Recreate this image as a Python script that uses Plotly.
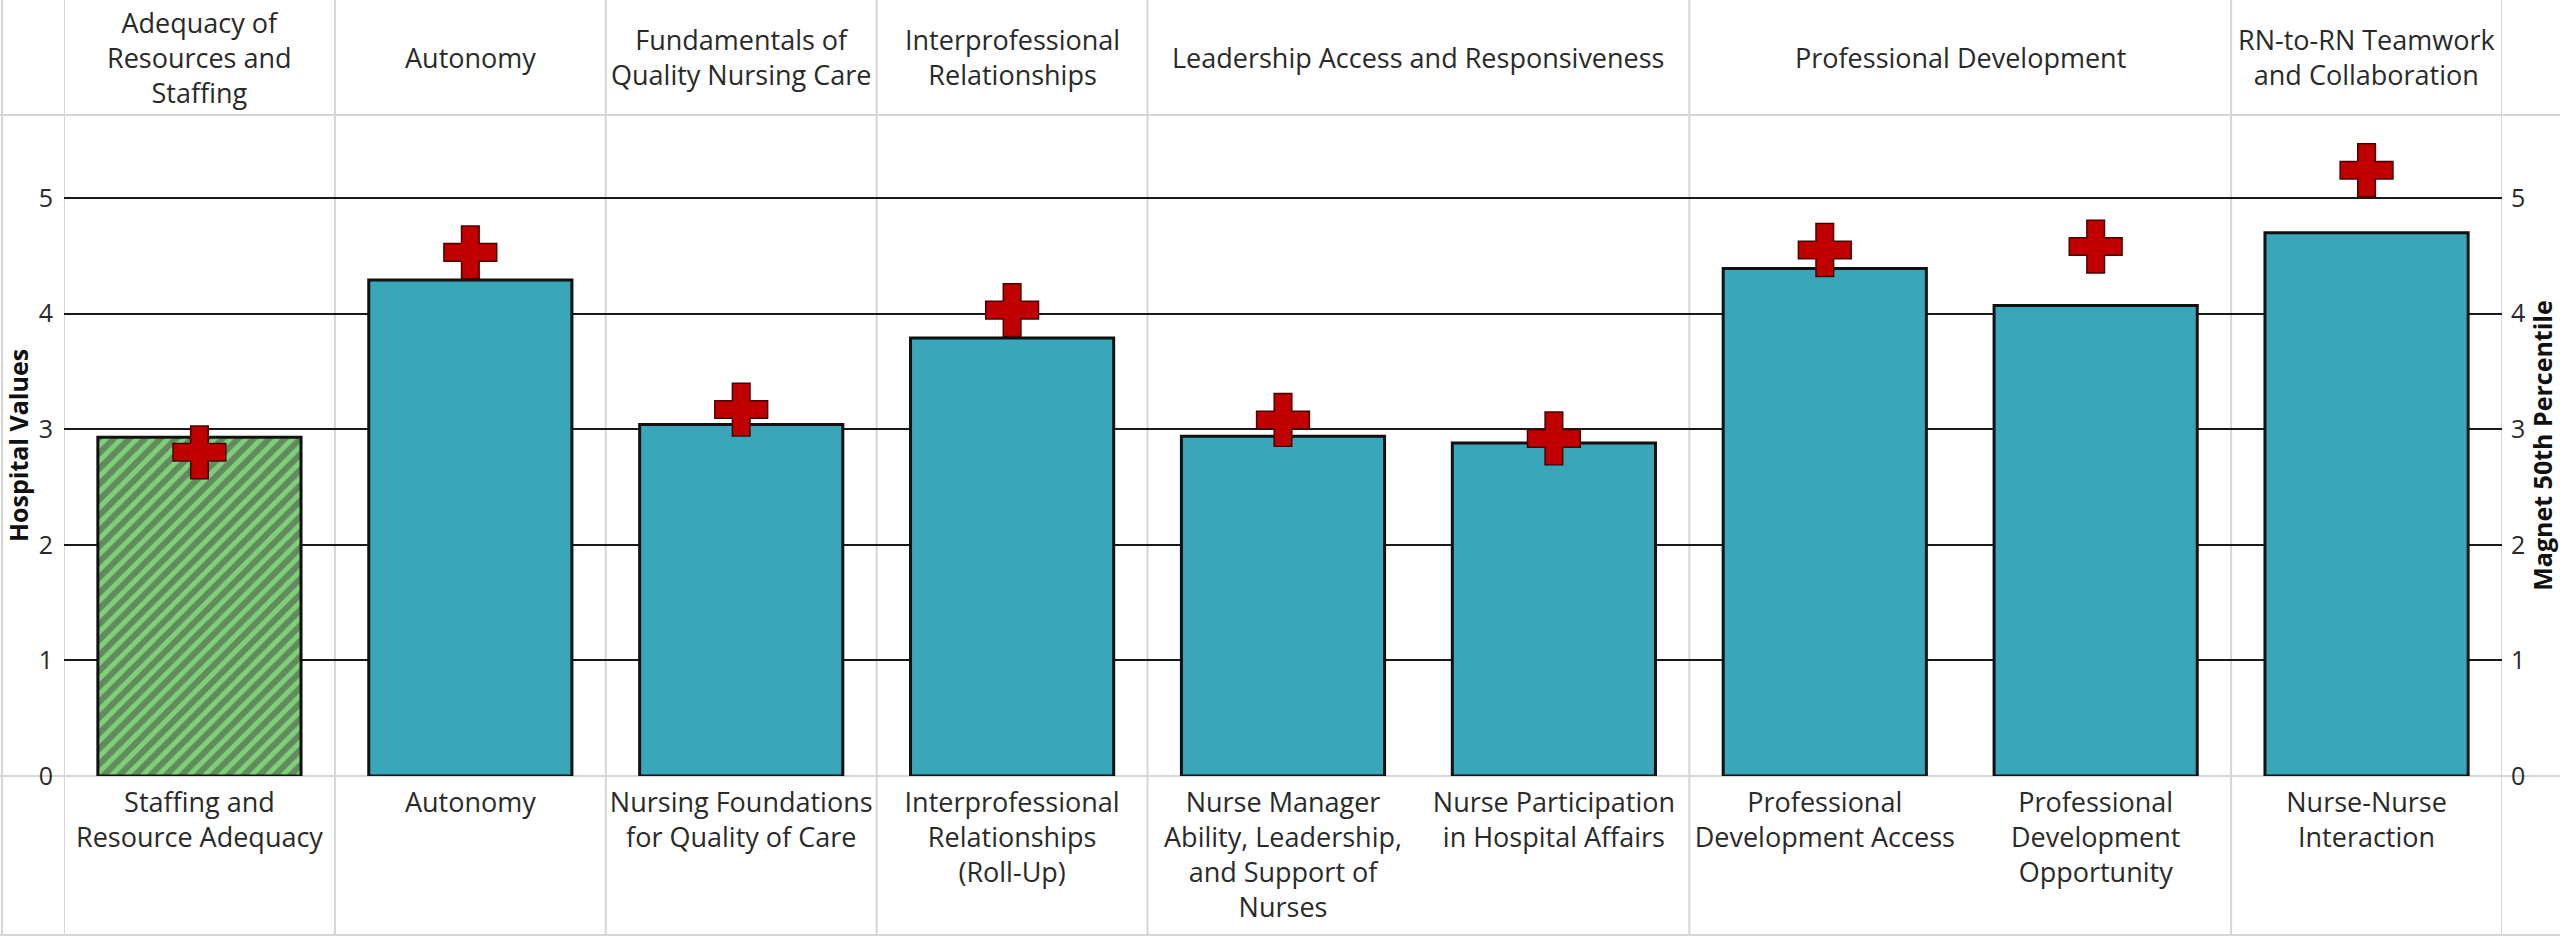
import plotly.graph_objects as go

# ---------------- data ----------------
categories = [
    "Staffing and Resource Adequacy",
    "Autonomy",
    "Nursing Foundations for Quality of Care",
    "Interprofessional Relationships (Roll-Up)",
    "Nurse Manager Ability, Leadership, and Support of Nurses",
    "Nurse Participation in Hospital Affairs",
    "Professional Development Access",
    "Professional Development Opportunity",
    "Nurse-Nurse Interaction",
]
tick_labels = [
    "Staffing and<br>Resource Adequacy",
    "Autonomy",
    "Nursing Foundations<br>for Quality of Care",
    "Interprofessional<br>Relationships<br>(Roll-Up)",
    "Nurse Manager<br>Ability, Leadership,<br>and Support of<br>Nurses",
    "Nurse Participation<br>in Hospital Affairs",
    "Professional<br>Development Access",
    "Professional<br>Development<br>Opportunity",
    "Nurse-Nurse<br>Interaction",
]
groups = [
    "Adequacy of<br>Resources and<br>Staffing",
    "Autonomy",
    "Fundamentals of<br>Quality Nursing Care",
    "Interprofessional<br>Relationships",
    "Leadership Access and Responsiveness",
    "Professional Development",
    "RN-to-RN Teamwork<br>and Collaboration",
]
group_of = [0, 1, 2, 3, 4, 4, 5, 5, 6]
hospital_values = [2.93, 4.29, 3.04, 3.79, 2.94, 2.88, 4.39, 4.07, 4.70]
magnet_50th = [2.80, 4.53, 3.17, 4.03, 3.08, 2.92, 4.55, 4.58, 5.24]
y_ticks = [0, 1, 2, 3, 4, 5]

# ---------------- style / layout ----------------
W, H = 2560, 937
PLOT_L, PLOT_R, PLOT_T, PLOT_B = 64, 2502, 115, 776
UNIT = 115.6
YMAX = (PLOT_B - PLOT_T) / UNIT

TEAL = "#3AA6B9"
GREEN = "#80D07A"
RED = "#C00000"
GRID_GRAY = "#d6d6d6"
TEXT = "#2a2a2a"
FONT = "Open Sans"

above = [h > m for h, m in zip(hospital_values, magnet_50th)]
bar_colors = [GREEN if a else TEAL for a in above]
bar_shapes = ["/" if a else "" for a in above]

fig = go.Figure()
fig.add_trace(go.Bar(
    x=categories, y=hospital_values, name="Hospital Values",
    marker=dict(color=bar_colors, line=dict(color="#111111", width=3),
                pattern=dict(shape=bar_shapes, fillmode="overlay", fgcolor="#000000",
                             size=11, solidity=0.55)),
    yaxis="y", showlegend=False,
))
fig.add_trace(go.Scatter(
    x=categories, y=magnet_50th, name="Magnet 50th Percentile", mode="markers",
    marker=dict(symbol="cross", size=44, color=RED, line=dict(color="#4a0000", width=1.5)),
    yaxis="y2", showlegend=False,
))

# group dividers (vertical light lines)
bounds = [0] + [i for i in range(1, len(group_of)) if group_of[i] != group_of[i - 1]] + [len(group_of)]
shapes = []
for b in bounds:
    shapes.append(dict(type="line", xref="x", yref="paper", x0=b - 0.5, x1=b - 0.5,
                       y0=2 / H, y1=1, line=dict(color=GRID_GRAY, width=2), layer="below"))
# horizontal table lines
for ypx in (PLOT_T, PLOT_B, H - 2):
    shapes.append(dict(type="line", xref="paper", yref="paper", x0=0, x1=1,
                       y0=(H - ypx) / H, y1=(H - ypx) / H,
                       line=dict(color=GRID_GRAY, width=2), layer="below"))
shapes.append(dict(type="line", xref="paper", yref="paper", x0=2 / W, x1=2 / W,
                   y0=2 / H, y1=1, line=dict(color=GRID_GRAY, width=2), layer="below"))

annotations = []
for gi, g in enumerate(groups):
    idx = [i for i, v in enumerate(group_of) if v == gi]
    annotations.append(dict(x=sum(idx) / len(idx), xref="x", y=(H - 57) / H, yref="paper",
                            text=g, showarrow=False, xanchor="center", yanchor="middle",
                            font=dict(family=FONT, size=27, color=TEXT)))

fig.update_layout(
    width=W, height=H, margin=dict(l=0, r=0, t=0, b=0),
    paper_bgcolor="white", plot_bgcolor="white",
    font=dict(family=FONT, color=TEXT),
    bargap=0.25,
    shapes=shapes, annotations=annotations,
    xaxis=dict(domain=[PLOT_L / W, PLOT_R / W], type="category",
               range=[-0.5, len(categories) - 0.5],
               tickvals=categories, ticktext=tick_labels, showgrid=False, zeroline=False,
               showline=False, ticks="", tickfont=dict(family=FONT, size=27, color=TEXT),
               ticklabelstandoff=8, automargin=False, fixedrange=True),
    yaxis=dict(domain=[(H - PLOT_B) / H, (H - PLOT_T) / H], range=[0, YMAX],
               tickvals=y_ticks, showgrid=True, gridcolor="#1a1a1a", gridwidth=1.5,
               zeroline=True, zerolinecolor=GRID_GRAY, zerolinewidth=2,
               showline=False, ticks="", tickfont=dict(family=FONT, size=25, color=TEXT),
               ticklabelstandoff=10, automargin=False, fixedrange=True,
               title=dict(text="<b>Hospital Values</b>", font=dict(family=FONT, size=25, color="#111"),
                          standoff=2)),
    yaxis2=dict(overlaying="y", side="right", anchor="x", range=[0, YMAX],
                tickvals=y_ticks, showgrid=False, zeroline=False, showline=False, ticks="",
                tickfont=dict(family=FONT, size=25, color=TEXT), ticklabelstandoff=8,
                automargin=False, fixedrange=True,
                title=dict(text="<b>Magnet 50th Percentile</b>",
                           font=dict(family=FONT, size=25, color="#111"), standoff=4)),
)

fig.write_html("out.html", config={"displayModeBar": False},
               post_script="document.body.style.margin='0';document.body.style.overflow='hidden';")
